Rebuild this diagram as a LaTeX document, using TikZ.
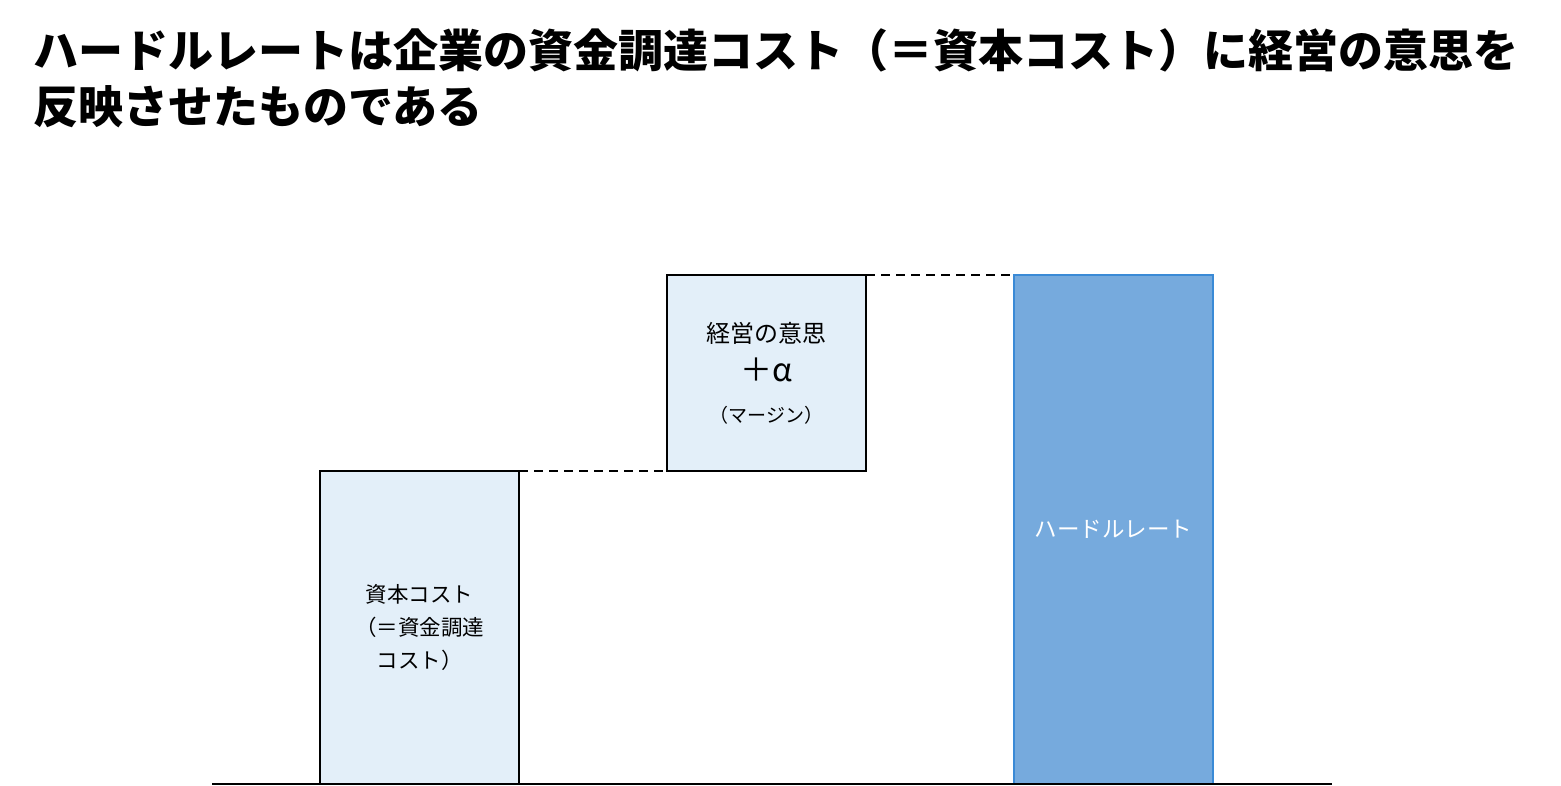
\documentclass[tikz,border=0pt]{standalone}
\usepackage{fontspec}
\setmainfont{Noto Sans CJK JP}
\usepackage{tikz}
\usepackage{tkz-euclide}

\definecolor{paleblue}{HTML}{E3EFF9}
\definecolor{hurdlefill}{HTML}{76AADD}
\definecolor{hurdleline}{HTML}{3A8AD6}

\begin{document}
\begin{tikzpicture}[x=1pt,y=-1pt,
  bar/.style={draw=black,line width=2pt,fill=paleblue,minimum width=199pt,
    inner sep=0pt,outer sep=0pt,align=center,font=\fontsize{21.5}{33}\selectfont},
  level/.style={dashed,dash pattern=on 9pt off 6pt,line width=2pt},
  headline/.style={anchor=base west,inner sep=0pt,font=\bfseries\fontsize{45}{56}\selectfont}]

\useasboundingbox (0,0) rectangle (1561,786);

% definitions
\tkzDefPoint(212,784){L}
\tkzDefPoint(1332,784){R}

\node[headline] (title1) at (33,68) {ハードルレートは企業の資金調達コスト（＝資本コスト）に経営の意思を};
\node[headline] (title2) at (33,124) {反映させたものである};

\node[bar,minimum height=313pt] (cost) at (419.5,627.5)
  {資本コスト\\（＝資金調達\\コスト）};
\node[bar,minimum height=196pt] (will) at (766.5,373)
  {{\fontsize{24}{30}\selectfont 経営の意思}\\[6pt]
   {\fontsize{32}{40}\selectfont ＋α}\\[8pt]
   {\fontsize{19}{26}\selectfont （マージン）}};
\node[bar,draw=hurdleline,fill=hurdlefill,text=white,minimum height=509pt,
  font=\fontsize{22.5}{33}\selectfont] (hurdle) at (1113.5,529.5)
  {ハードルレート};

\draw[level] (cost.north east) -- (will.south west);
\draw[level] (will.north east) -- (hurdle.north west);
\draw[line width=2pt] (L) -- (R);
\end{tikzpicture}
\end{document}
